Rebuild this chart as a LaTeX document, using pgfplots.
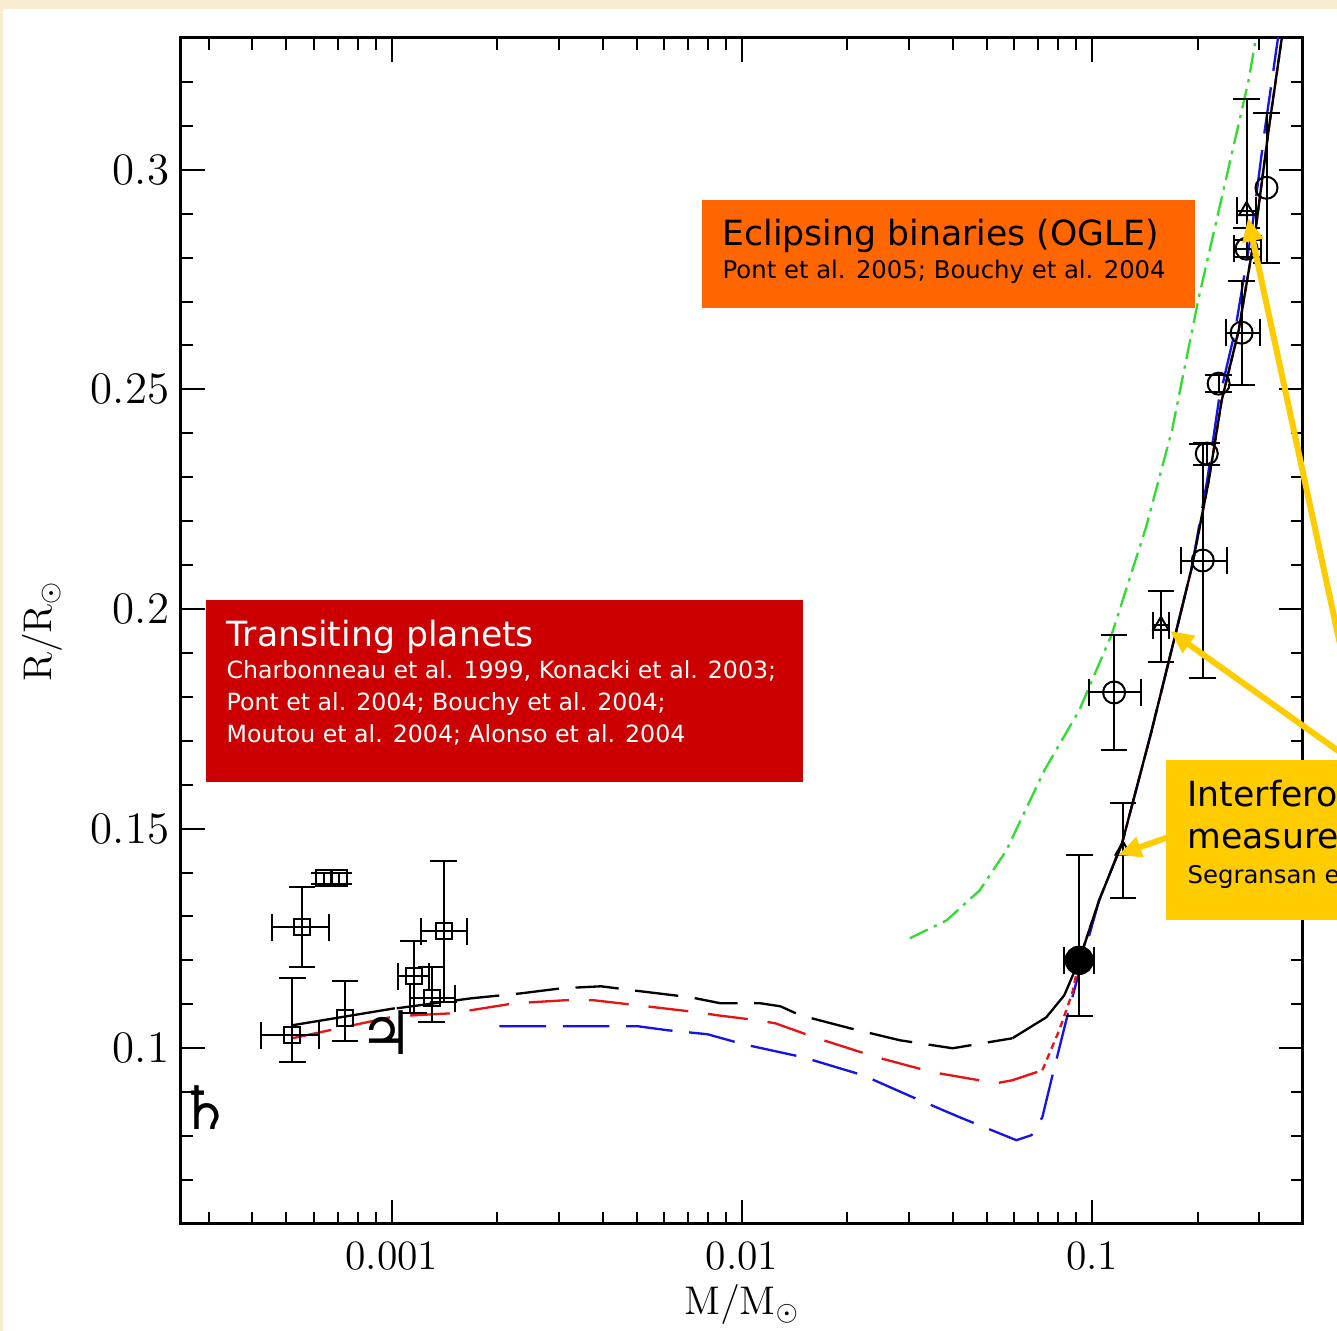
\documentclass[border=0pt]{standalone}
\usepackage{pgfplots}
\pgfplotsset{compat=1.18}
\usepackage{fontspec}
\newfontfamily\boxfont{DejaVu Sans}
\usetikzlibrary{arrows.meta}
\definecolor{cream}{RGB}{250,236,208}
\definecolor{boxorange}{RGB}{255,102,0}
\definecolor{boxred}{RGB}{204,0,0}
\definecolor{boxyellow}{RGB}{255,204,0}
\definecolor{cgreen}{RGB}{50,220,50}
\definecolor{cblue}{RGB}{20,20,230}
\definecolor{cred}{RGB}{230,20,20}
\tikzset{px/.style={x=0.3pt,y=-0.3pt,shift={(-54.3pt,367.2pt)}}}
\pgfplotsset{
  ebar/.style={error bars/.cd, x dir=both, y dir=both, x explicit, y explicit,
    error bar style={line width=0.6pt, black},
    error mark options={rotate=90, line width=0.6pt, mark size=4pt, black}},
  ebary/.style={error bars/.cd, y dir=both, y explicit,
    error bar style={line width=0.6pt, black},
    error mark options={rotate=90, line width=0.6pt, mark size=4pt, black}},
}
\begin{document}
\begin{tikzpicture}
\begin{scope}[px]
  \fill[cream] (0,0) rectangle (1337,1331);
  \fill[white] (3,9) rectangle (1337,1331);
\end{scope}
\begin{axis}[
  at={(0pt,0pt)}, anchor=south west, scale only axis,
  width=336.6pt, height=355.8pt,
  xmode=log, xmin=0.00025, xmax=0.4, ymin=0.06, ymax=0.33,
  xtick={0.001,0.01,0.1}, xticklabels={0.001,0.01,0.1},
  minor xtick={0.0003,0.0004,0.0005,0.0006,0.0007,0.0008,0.0009,0.002,0.003,0.004,0.005,0.006,0.007,0.008,0.009,0.02,0.03,0.04,0.05,0.06,0.07,0.08,0.09,0.2,0.3},
  ytick={0.1,0.15,0.2,0.25,0.3}, yticklabels={0.1,0.15,0.2,0.25,0.3},
  minor ytick={0.07,0.08,0.09,0.11,0.12,0.13,0.14,0.16,0.17,0.18,0.19,0.21,0.22,0.23,0.24,0.26,0.27,0.28,0.29,0.31,0.32},
  tick align=inside, major tick length=7.2pt, minor tick length=3.6pt,
  every tick/.style={black, line width=0.6pt},
  axis line style={line width=0.9pt},
  xticklabel style={font=\fontsize{12.5}{15}\selectfont, yshift=-1.8pt},
  yticklabel style={font=\fontsize{13.5}{16}\selectfont},
  xlabel={$\mathrm{M/M_{\odot}}$}, ylabel={$\mathrm{R/R_{\odot}}$},
  label style={font=\fontsize{12}{14}\selectfont},
  xlabel style={at={(axis description cs:0.5,-0.068)}, anchor=center},
  ylabel style={at={(axis description cs:-0.124,0.5)}, anchor=center},
]
% green dash-dot
\addplot[cgreen, line width=0.7pt, dash pattern=on 6pt off 2pt on 1pt off 2pt] coordinates {
(0.03015,0.12503) (0.03842,0.12912) (0.04772,0.13595) (0.05691,0.14505) (0.07302,0.16325)
(0.09183,0.17691) (0.11399,0.19443) (0.14243,0.21854) (0.16896,0.24061) (0.20156,0.27088)
(0.24052,0.29750) (0.2797,0.3203) (0.29275,0.32935) (0.30851,0.33845)};
% blue
\addplot[cblue, line width=0.7pt, dash pattern=on 14pt off 5pt] coordinates {
(0.002030,0.10501) (0.005042,0.10501) (0.006140,0.10410) (0.007977,0.10319) (0.01010,0.10091)
(0.01496,0.09795) (0.02216,0.09386) (0.03075,0.08885) (0.04183,0.08430) (0.06078,0.07907)
(0.06709,0.08021) (0.07207,0.08430) (0.07645,0.09272) (0.08433,0.10637) (0.09367,0.12002)
(0.10469,0.13367) (0.12170,0.14664) (0.14720,0.17167) (0.17119,0.19283) (0.19255,0.20944)
(0.21300,0.22924) (0.23000,0.24744) (0.2560,0.26337) (0.2855,0.28612) (0.3110,0.30887)
(0.3385,0.32935) (0.355,0.33845)};
% red
\addplot[cred, line width=0.7pt, dash pattern=on 12pt off 6pt] coordinates {
(0.0005194,0.10228) (0.00102,0.10728) (0.001482,0.10796) (0.002238,0.11024) (0.003106,0.11092)
(0.003780,0.11092) (0.005042,0.10978) (0.007471,0.10819) (0.008518,0.10751) (0.01107,0.10637)
(0.01245,0.10569) (0.01640,0.10228) (0.02429,0.09795) (0.03506,0.09454) (0.05331,0.09204)
(0.05920,0.09272) (0.07207,0.09499)};
\addplot[cred, line width=0.7pt, dash pattern=on 2pt off 1.5pt] coordinates {
(0.07207,0.09499) (0.08054,0.10410) (0.08771,0.11251) (0.09183,0.12002)
(0.10469,0.13367) (0.12170,0.14664) (0.14720,0.17167) (0.17119,0.19283) (0.19255,0.20944)
(0.21527,0.22924) (0.23431,0.24744) (0.26196,0.26337) (0.29275,0.28612) (0.31891,0.30887)
(0.34713,0.32935) (0.3635,0.33845)};
% black
\addplot[black, line width=0.7pt] coordinates {(0.0005194,0.10523) (0.00102,0.10910)};
\addplot[black, line width=0.7pt, dash pattern=on 13pt off 5pt] coordinates {
(0.001033,0.10910) (0.001689,0.11138) (0.002343,0.11251) (0.003045,0.11365) (0.003957,0.11411)
(0.005142,0.11297) (0.007137,0.11160) (0.008686,0.11024) (0.01129,0.11024) (0.01287,0.10956)
(0.01467,0.10751) (0.02036,0.10455) (0.02824,0.10182) (0.03996,0.10000) (0.05920,0.10228)};
\addplot[black, line width=0.7pt] coordinates {
(0.05920,0.10228) (0.07397,0.10705) (0.08325,0.11206) (0.09183,0.12002)
(0.10469,0.13367) (0.12170,0.14664) (0.14720,0.17167) (0.17119,0.19283) (0.19255,0.20944)
(0.21527,0.22924) (0.23431,0.24744) (0.26196,0.26337) (0.29275,0.28612) (0.31891,0.30887)
(0.34713,0.32935) (0.3635,0.33845)};
% transiting planets (squares)
\addplot[only marks, mark=square, mark size=2.4pt, mark options={line width=0.6pt, black}, ebar]
 table[x=x, y=y, x error minus=xm, x error plus=xp, y error minus=ym, y error plus=yp] {
x y xm xp ym yp
0.0005546 0.12753 0.0000990 0.0001071 0.00910 0.00910
0.0005194 0.10296 0.0000954 0.0001005 0.00614 0.01297
0.0011552 0.11638 0.000115 0.000119 0.00842 0.00796
0.0012997 0.11138 0.000175 0.000211 0.00546 0.00705
0.0014054 0.12662 0.000196 0.000229 0.01615 0.01593
};
\addplot[only marks, mark=square, mark size=2.4pt, mark options={line width=0.6pt, black}, ebary]
 table[x=x, y=y, y error minus=ym, y error plus=yp] {
x y ym yp
0.0007349 0.10683 0.00524 0.00842
0.0006402 0.13868 0.0012 0.0012
0.0007066 0.13868 0.0012 0.0012
};
% eclipsing binaries (circles)
\addplot[only marks, mark=o, mark size=3.3pt, mark options={line width=0.6pt, black}, ebar]
 table[x=x, y=y, x error minus=xm, x error plus=xp, y error minus=ym, y error plus=yp] {
x y xm xp ym yp
0.11552 0.18100 0.0175 0.0223 0.0132 0.0130
0.20697 0.21104 0.0279 0.0352 0.0268 0.0266
0.26722 0.26291 0.0267 0.0353 0.0118 0.0118
0.27606 0.28203 0.0226 0.0284 0.0020 0.0020
};
\addplot[only marks, mark=o, mark size=3.3pt, mark options={line width=0.6pt, black}, ebary]
 table[x=x, y=y, y error minus=ym, y error plus=yp] {
x y ym yp
0.3147 0.2959 0.0171 0.0171
0.21247 0.23538 0.0025 0.0025
0.22977 0.25131 0.0020 0.0020
};
% interferometric (triangles)
\addplot[only marks, mark=triangle, mark size=2.6pt, mark options={line width=0.6pt, black}, ebar]
 table[x=x, y=y, x error minus=xm, x error plus=xp, y error minus=ym, y error plus=yp] {
x y xm xp ym yp
0.27606 0.29067 0.017 0.018 0.004 0.0255
0.15719 0.19625 0.008 0.009 0.00842 0.00774
};
\addplot[only marks, mark=triangle, mark size=2.6pt, mark options={line width=0.6pt, black}, ebary]
 table[x=x, y=y, y error minus=ym, y error plus=yp] {
x y ym yp
0.12252 0.14505 0.0109 0.0107
};
% filled point
\addplot[only marks, mark=*, mark size=4.2pt, mark options={black}, ebar]
 table[x=x, y=y, x error minus=xm, x error plus=xp, y error minus=ym, y error plus=yp] {
x y xm xp ym yp
0.09183 0.12002 0.0086 0.0095 0.0127 0.0239
};
\node[font=\boxfont\fontsize{18}{19}\selectfont] at (axis cs:0.000968,0.1036) {♃};
\node[font=\boxfont\fontsize{18}{19}\selectfont] at (axis cs:0.000294,0.0865) {♄};
\end{axis}
\begin{scope}[px]
  % arrows
  \draw[boxyellow, line width=1.8pt, -{Triangle[length=7pt,width=6pt]}] (1365,760) -- (1248,218);
  \draw[boxyellow, line width=1.8pt, -{Triangle[length=7pt,width=6pt]}] (1351,760) -- (1170,631);
  \draw[boxyellow, line width=1.8pt, -{Triangle[length=7pt,width=6pt]}] (1180,833) -- (1118,855);
  % boxes
  \fill[boxorange] (702,200) rectangle (1195,308);
  \node[inner sep=0, anchor=base west, font=\boxfont\fontsize{10.4}{12}\selectfont] at (722,246) {Eclipsing binaries (OGLE)};
  \node[inner sep=0, anchor=base west, font=\boxfont\fontsize{7.3}{9}\selectfont] at (722,279) {Pont et al. 2005; Bouchy et al. 2004};
  \fill[boxred] (206,600) rectangle (803,782);
  \node[inner sep=0, anchor=base west, text=white, font=\boxfont\fontsize{10.4}{12}\selectfont] at (226,647) {Transiting planets};
  \node[inner sep=0, anchor=base west, text=white, font=\boxfont\fontsize{7.1}{9}\selectfont] at (226,679) {Charbonneau et al. 1999, Konacki et al. 2003;};
  \node[inner sep=0, anchor=base west, text=white, font=\boxfont\fontsize{7.1}{9}\selectfont] at (226,711) {Pont et al. 2004; Bouchy et al. 2004;};
  \node[inner sep=0, anchor=base west, text=white, font=\boxfont\fontsize{7.1}{9}\selectfont] at (226,743) {Moutou et al. 2004; Alonso et al. 2004};
  \fill[boxyellow] (1166,760) rectangle (1600,920);
  \node[inner sep=0, anchor=base west, font=\boxfont\fontsize{10.4}{12}\selectfont] at (1187,807) {Interferometric};
  \node[inner sep=0, anchor=base west, font=\boxfont\fontsize{10.4}{12}\selectfont] at (1187,849) {measurements};
  \node[inner sep=0, anchor=base west, font=\boxfont\fontsize{7.3}{9}\selectfont] at (1187,884) {Segransan et al. 2003};
\end{scope}
\pgfresetboundingbox
\begin{scope}[px]
  \path[use as bounding box] (0,0) rectangle (1337,1331);
\end{scope}
\end{tikzpicture}
\end{document}
